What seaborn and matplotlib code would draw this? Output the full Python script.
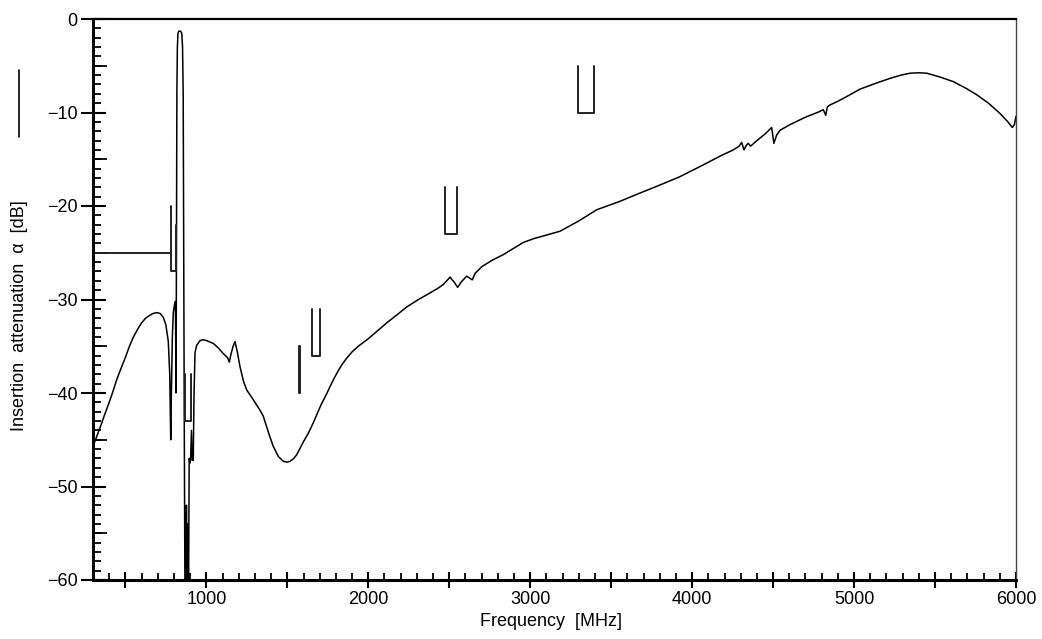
import numpy as np
import matplotlib
matplotlib.use("Agg")
import matplotlib.pyplot as plt
from matplotlib.ticker import MultipleLocator, FuncFormatter
from matplotlib.lines import Line2D
import seaborn as sns

# ── measured curve: frequency [MHz] / insertion attenuation [dB] ──
freq = [300, 320, 350, 370, 400, 420, 446, 470, 500, 525, 550, 575, 600, 625,
        650, 670, 693, 715, 734, 750, 765, 774,
        780, 784, 790, 796, 803, 809, 813, 816, 818, 821, 825, 830, 840, 848,
        853, 857, 860, 864, 868, 873, 877, 881, 886, 890, 894, 899, 903, 908,
        913, 919, 924, 930, 940, 961, 980, 1002, 1043, 1075, 1105, 1130, 1142,
        1150, 1165, 1177, 1190, 1208, 1230, 1250, 1270, 1300, 1330, 1352, 1385,
        1413, 1445, 1475, 1500, 1517, 1540, 1558, 1600, 1630, 1660, 1710, 1740,
        1764, 1790, 1815, 1840, 1870, 1900, 1938, 2000, 2060, 2114, 2180, 2237,
        2310, 2381, 2430, 2463, 2490, 2505, 2518, 2529, 2552, 2575, 2608, 2625,
        2642, 2660, 2700, 2765, 2834, 2900, 2957, 3020, 3102, 3184, 3300, 3411,
        3554, 3680, 3781, 3920, 4069, 4180, 4254, 4290, 4306, 4320, 4335, 4347,
        4361, 4400, 4450, 4491, 4505, 4522, 4543, 4604, 4700, 4780, 4810, 4825,
        4835, 4851, 4900, 4954, 5037, 5130, 5222, 5290, 5345, 5400, 5449, 5530,
        5613, 5690, 5757, 5830, 5901, 5950, 5977, 5990, 6000]
atten = [-45.7, -44.8, -43.4, -42.4, -41.0, -40.0, -38.6, -37.5, -36.2, -35.0,
         -34.0, -33.2, -32.5, -32.0, -31.7, -31.5, -31.4, -31.5, -31.9, -32.7,
         -34.5, -38.0,
         -45.0, -40.0, -34.0, -31.4, -30.6, -30.2,
         -40.0, -22.0, -8.0, -3.0, -1.5, -1.3, -1.3, -1.5, -3.0, -8.0, -25.0,
         -45.0, -62.0, -62.0, -52.0, -62.0, -54.0, -62.0, -47.0, -47.5, -47.0,
         -44.0, -47.2, -47.2, -40.0, -35.7, -34.9, -34.4, -34.3, -34.4, -34.7,
         -35.2, -35.8, -36.2, -36.7, -36.0, -35.0, -34.5, -35.5, -37.2, -38.8,
         -39.7, -40.2, -41.0, -41.8, -42.5, -44.3, -45.7, -46.8, -47.3, -47.4,
         -47.3, -47.0, -46.6, -45.2, -44.3, -43.2, -41.2, -40.2,
         -39.3, -38.4, -37.6, -36.9, -36.2, -35.6, -35.0, -34.2, -33.3, -32.5,
         -31.6, -30.8,
         -30.0, -29.3, -28.8, -28.4, -27.9, -27.6, -27.9, -28.1, -28.7, -28.1,
         -27.5, -27.7, -27.9, -27.2, -26.5, -25.8, -25.2, -24.5, -23.9, -23.5,
         -23.1, -22.7, -21.6, -20.4, -19.5, -18.6, -17.9, -16.9, -15.6, -14.6,
         -14.0, -13.6, -13.2, -14.0, -13.5, -13.3, -13.6, -13.0, -12.3, -11.6,
         -13.3, -12.4, -11.9, -11.3, -10.5, -9.95, -9.7, -10.3, -9.4, -9.2,
         -8.8, -8.3, -7.5, -6.9, -6.35, -6.0, -5.8, -5.75, -5.8, -6.2, -6.7,
         -7.4, -8.1, -9.0, -10.1, -11.0, -11.6, -11.3, -10.4]

# ── specification mask (tolerance brackets) ──
mask_freq = [
    [300, 780],
    [780, 780, 813, 813],
    [869, 869, 903, 903],
    [1574, 1574, 1577, 1577],
    [1651, 1651, 1702, 1702],
    [2474, 2474, 2548, 2548],
    [3293, 3293, 3396, 3396],
]
mask_atten = [
    [-25, -25],
    [-20, -27, -27, -22],
    [-38, -43, -43, -38],
    [-35, -40, -40, -35],
    [-31, -36, -36, -31],
    [-18, -23, -23, -18],
    [-5, -10, -10, -5],
]

sns.set_style("white")
plt.rcParams["font.family"] = ["Liberation Sans", "DejaVu Sans"]
plt.rcParams["text.color"] = "black"
plt.rcParams["xtick.color"] = "black"
plt.rcParams["ytick.color"] = "black"

fig = plt.figure(figsize=(10.42, 6.39), dpi=100)
ax = fig.add_axes([93 / 1042, 59 / 639, 923 / 1042, 561 / 639])

sns.lineplot(x=freq, y=atten, ax=ax, color="black", linewidth=1.1,
             sort=False, estimator=None)
for mf, ma in zip(mask_freq, mask_atten):
    sns.lineplot(x=mf, y=ma, ax=ax, color="#222222", linewidth=1.4,
                 sort=False, estimator=None)

ax.set_xlim(300, 6000)
ax.set_ylim(-60, 0)

# x ticks: 500-step crossing the axis, labels at 1000s, 100-step inward
ax.xaxis.set_major_locator(MultipleLocator(500))
ax.xaxis.set_minor_locator(MultipleLocator(100))
ax.xaxis.set_major_formatter(
    FuncFormatter(lambda v, p: f"{int(v)}" if v % 1000 == 0 else ""))
ax.tick_params(axis="x", which="both", bottom=True, top=False)
ax.tick_params(axis="x", which="major", direction="inout", length=12,
               width=1.5, labelsize=13, pad=2)
ax.tick_params(axis="x", which="minor", direction="in", length=5, width=1.3)

# y ticks: 10-step crossing, 1-step inward, 5-step inward (secondary)
ax.yaxis.set_major_locator(MultipleLocator(10))
ax.yaxis.set_minor_locator(MultipleLocator(1))
ax.yaxis.set_major_formatter(
    FuncFormatter(lambda v, p: "0" if v == 0 else f"\u2212{int(abs(v))}"))
ax.tick_params(axis="y", which="both", left=True, right=False)
ax.tick_params(axis="y", which="major", direction="inout", length=18,
               width=1.5, labelsize=13, pad=2)
ax.tick_params(axis="y", which="minor", direction="in", length=6, width=1.3)

sec = ax.secondary_yaxis("left")
sec.set_yticks(np.arange(-55, 0, 10))
sec.tick_params(direction="in", length=10, width=1.3, labelleft=False,
                left=True)
sec.spines["left"].set_linewidth(2)

for side, lw, col in [("bottom", 2.2, "black"), ("left", 2.0, "black"),
                      ("top", 1.6, "black"), ("right", 1.0, "#444444")]:
    ax.spines[side].set_visible(True)
    ax.spines[side].set_linewidth(lw)
    ax.spines[side].set_color(col)

ax.set_xlabel("")
ax.set_ylabel("")
fig.text(551 / 1042, 1 - 621 / 639, "Frequency  [MHz]", ha="center",
         va="center", fontsize=13)
fig.text(20 / 1042, 1 - 316 / 639, "Insertion  attenuation  \u03b1  [dB]",
         ha="center", va="center", rotation=90, fontsize=13)
fig.add_artist(Line2D([19 / 1042, 19 / 1042], [1 - 137 / 639, 1 - 70 / 639],
                      transform=fig.transFigure, color="black", linewidth=1.2))

fig.savefig("out.png", dpi=100)
